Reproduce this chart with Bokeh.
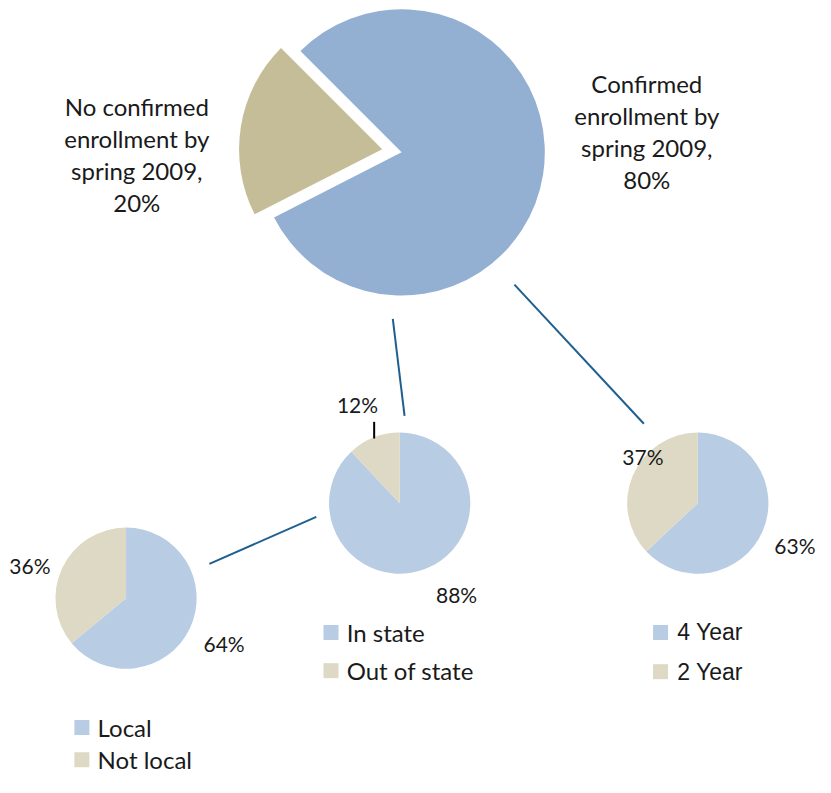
import math
from bokeh.plotting import figure
from bokeh.models import Range1d
from bokeh.core.properties import value
from bokeh.embed import file_html
from bokeh.resources import INLINE

# ---- data ----
big_labels = ["No confirmed\nenrollment by\nspring 2009,\n20%", "Confirmed\nenrollment by\nspring 2009,\n80%"]
big_values = [20, 80]

instate_labels = ["In state", "Out of state"]
instate_values = [88, 12]

local_labels = ["Local", "Not local"]
local_values = [64, 36]

year_labels = ["4 Year", "2 Year"]
year_values = [63, 37]

# ---- styles ----
BIG_BLUE = "#93B0D2"
BIG_TAN = "#C4BD97"
SM_BLUE = "#B8CCE4"
SM_TAN = "#DDD9C4"
LINE_BLUE = "#1F5F8F"
FONT = "Lato"
TXT = "#1a1a1a"

W, H = 815, 777
p = figure(width=W, height=H, output_backend="svg", toolbar_location=None,
           x_range=Range1d(0, 831), y_range=Range1d(0, 793),
           min_border=0, min_border_left=0, min_border_right=0,
           min_border_top=0, min_border_bottom=0)
p.axis.visible = False
p.grid.visible = False
p.outline_line_color = None
p.background_fill_color = "white"


def Y(img_y):
    return 793 - img_y


def rad(d):
    return math.radians(d)


# ---- big pie (tan slice exploded) ----
cx, cy, R = 409, Y(155), 146
start = 135.0
tan_span = big_values[0] / sum(big_values) * 360
blue_span = big_values[1] / sum(big_values) * 360
mid = start + tan_span / 2
off = 20
p.wedge(x=[cx + off * math.cos(rad(mid))], y=[cy + off * math.sin(rad(mid))], radius=R,
        start_angle=rad(start), end_angle=rad(start + tan_span), direction="anticlock",
        fill_color=BIG_TAN, line_color=None)
p.wedge(x=[cx], y=[cy], radius=R,
        start_angle=rad(start + tan_span), end_angle=rad(start + tan_span + blue_span),
        direction="anticlock", fill_color=BIG_BLUE, line_color=None)


# ---- small pies ----
def small_pie(x, y, vals, r=72):
    total = sum(vals)
    blue = vals[0] / total * 360
    tan = vals[1] / total * 360
    p.wedge(x=[x], y=[y], radius=r, start_angle=rad(90 - blue), end_angle=rad(90),
            direction="anticlock", fill_color=SM_BLUE, line_color=None)
    p.wedge(x=[x], y=[y], radius=r, start_angle=rad(90), end_angle=rad(90 + tan),
            direction="anticlock", fill_color=SM_TAN, line_color=None)


small_pie(407, Y(513), instate_values)
small_pie(128, Y(610), local_values)
small_pie(711, Y(513), year_values)

# ---- connector lines ----
for (x0, y0, x1, y1) in [(400, 325, 412, 424), (524, 290, 656, 432), (322, 527, 213, 575)]:
    p.line([x0, x1], [Y(y0), Y(y1)], line_color=LINE_BLUE, line_width=2)
p.line([381, 381], [Y(430), Y(447)], line_color="black", line_width=2)

# ---- big pie labels ----
p.text(x=[139], y=[Y(157)], text=[big_labels[0]], text_align="center", text_baseline="middle",
       text_font=value(FONT), text_font_size="24px", text_color=TXT, text_line_height=1.1)
p.text(x=[659], y=[Y(134)], text=[big_labels[1]], text_align="center", text_baseline="middle",
       text_font=value(FONT), text_font_size="24px", text_color=TXT, text_line_height=1.1)

# ---- percentage labels ----
pct = [
    (364, 412, f"{instate_values[1]}%"),
    (465, 606, f"{instate_values[0]}%"),
    (30, 577, f"{local_values[1]}%"),
    (228, 656, f"{local_values[0]}%"),
    (655, 465, f"{year_values[1]}%"),
    (810, 556, f"{year_values[0]}%"),
]
p.text(x=[a for a, b, c in pct], y=[Y(b) for a, b, c in pct], text=[c for a, b, c in pct],
       text_align="center", text_baseline="middle", text_font=value(FONT),
       text_font_size="21px", text_color=TXT)

# ---- legends ----
leg = [
    (337, 645, 353, instate_labels[0], SM_BLUE, FONT, "24px"),
    (337, 684, 353, instate_labels[1], SM_TAN, FONT, "24px"),
    (83, 742, 99, local_labels[0], SM_BLUE, FONT, "24px"),
    (83, 775, 99, local_labels[1], SM_TAN, FONT, "24px"),
    (673, 645, 690, year_labels[0], SM_BLUE, "Liberation Sans", "23px"),
    (673, 685, 690, year_labels[1], SM_TAN, "Liberation Sans", "23px"),
]
for sx, sy, tx, lab, col, fnt, fs in leg:
    p.scatter(x=[sx], y=[Y(sy)], marker="square", size=15, fill_color=col, line_color=None)
    p.text(x=[tx], y=[Y(sy)], text=[lab], text_align="left", text_baseline="middle",
           text_font=value(fnt), text_font_size=fs, text_color=TXT)

open("out.html", "w").write(file_html(p, INLINE))
